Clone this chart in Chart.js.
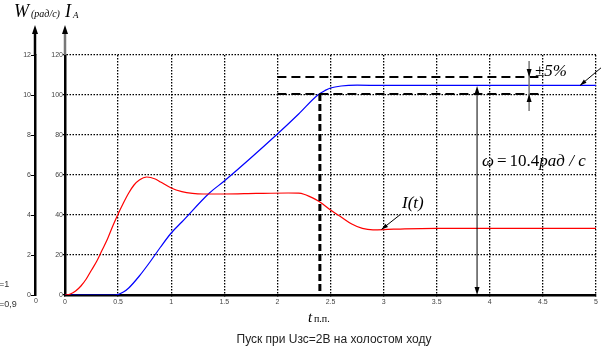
<!DOCTYPE html>
<html>
<head>
<meta charset="utf-8">
<script src="https://cdn.jsdelivr.net/npm/chart.js@4.4.0/dist/chart.umd.min.js"></script>
<style>
  html, body { margin: 0; padding: 0; background: #fff; }
  #wrap { width: 601px; height: 353px; }
</style>
</head>
<body>
<div id="wrap"><canvas id="chart"></canvas></div>
<script>
// ток I(t), А
const currentT    = [0, 0.05, 0.1, 0.15, 0.2, 0.25, 0.3, 0.35, 0.4, 0.45, 0.5, 0.55, 0.6, 0.65, 0.7, 0.77, 0.85, 0.9, 1.0, 1.1, 1.2, 1.3, 1.5, 1.8, 2.1, 2.2, 2.25, 2.3, 2.4, 2.5, 2.6, 2.7, 2.8, 2.9, 3.0, 3.2, 3.5, 4.0, 5.0];
const currentVals = [0, 0.5, 2, 4.5, 8, 12.5, 17, 22.5, 28, 34.5, 40.5, 46, 51, 55, 57.5, 59, 58, 56.5, 53.5, 51.7, 50.8, 50.5, 50.5, 50.8, 51, 50.9, 50.4, 49.3, 46.5, 42.5, 39, 35.5, 33.3, 32.6, 32.7, 33.1, 33.3, 33.3, 33.3];

// скорость W (x10), рад/с
const speedT    = [0, 0.47, 0.55, 0.6, 0.7, 0.8, 0.9, 1.0, 1.1, 1.36, 1.5, 2.0, 2.2, 2.38, 2.45, 2.5, 2.6, 2.75, 3.0, 4.0, 5.0];
const speedVals = [0, 0, 1.5, 3.5, 9.5, 16.5, 24, 31, 36.5, 51, 57, 80.5, 90.5, 100, 102.3, 103.5, 104.5, 104.9, 104.8, 104.8, 104.8];

// оси
const xTicks = [0, 0.5, 1, 1.5, 2, 2.5, 3, 3.5, 4, 4.5, 5];
const iTicks = [0, 20, 40, 60, 80, 100, 120];
const wTicks = [0, 2, 4, 6, 8, 10, 12];

// зона ±5% и момент выхода на режим
const tolUpper = 109;
const tolLower = 100.5;
const tSettle = 2.4;
const tMark = 3.88;
const tTol = 4.37;

const tickFont = { family: 'Liberation Sans', size: 7 };
const plain = v => String(v);

function arrowHead(ctx, x, y, dir, w, h) {
    // dir: 1 = вниз, -1 = вверх
    ctx.beginPath();
    ctx.moveTo(x, y);
    ctx.lineTo(x - w / 2, y - dir * h);
    ctx.lineTo(x + w / 2, y - dir * h);
    ctx.closePath();
    ctx.fill();
}

function pointer(ctx, x1, y1, x2, y2) {
    ctx.beginPath();
    ctx.moveTo(x1, y1);
    ctx.lineTo(x2, y2);
    ctx.stroke();
    const a = Math.atan2(y2 - y1, x2 - x1);
    ctx.beginPath();
    ctx.moveTo(x2, y2);
    ctx.lineTo(x2 - 7 * Math.cos(a - 0.3), y2 - 7 * Math.sin(a - 0.3));
    ctx.lineTo(x2 - 7 * Math.cos(a + 0.3), y2 - 7 * Math.sin(a + 0.3));
    ctx.closePath();
    ctx.fill();
}

const overlay = {
    id: 'overlay',
    afterDraw(chart) {
        const { ctx, chartArea } = chart;
        const x = chart.scales.x, y = chart.scales.y, yW = chart.scales.yW;
        const px = v => x.getPixelForValue(v);
        const py = v => y.getPixelForValue(v);
        ctx.save();

        // стрелки осей
        const wx = yW.right, ix = chartArea.left;
        ctx.strokeStyle = '#000';
        ctx.lineWidth = 2.5;
        ctx.beginPath(); ctx.moveTo(wx, chartArea.top); ctx.lineTo(wx, 32); ctx.stroke();
        ctx.strokeStyle = '#777';
        ctx.beginPath(); ctx.moveTo(ix, chartArea.top); ctx.lineTo(ix, 32); ctx.stroke();
        ctx.fillStyle = '#000';
        arrowHead(ctx, wx, 25, -1, 6, 9);
        arrowHead(ctx, ix, 25, -1, 6, 9);

        // пунктир ±5%
        ctx.strokeStyle = '#000';
        ctx.lineWidth = 2;
        ctx.setLineDash([9, 5]);
        ctx.beginPath();
        ctx.moveTo(px(2), py(tolUpper)); ctx.lineTo(px(4.46), py(tolUpper));
        ctx.moveTo(px(2), py(tolLower)); ctx.lineTo(px(4.46), py(tolLower));
        ctx.stroke();
        ctx.lineWidth = 3;
        ctx.setLineDash([7, 3]);
        ctx.beginPath();
        ctx.moveTo(px(tSettle), py(tolLower)); ctx.lineTo(px(tSettle), py(0));
        ctx.stroke();
        ctx.setLineDash([]);

        // стрелка ω
        ctx.lineWidth = 1;
        ctx.beginPath();
        ctx.moveTo(px(tMark), py(104) + 6); ctx.lineTo(px(tMark), py(0) - 6);
        ctx.stroke();
        arrowHead(ctx, px(tMark), py(104.5), -1, 5, 8);
        arrowHead(ctx, px(tMark), py(0), 1, 5, 8);

        // метка ±5%
        ctx.strokeStyle = '#777';
        ctx.lineWidth = 1.5;
        ctx.beginPath();
        ctx.moveTo(px(tTol), py(tolUpper) - 16); ctx.lineTo(px(tTol), py(tolLower) + 17);
        ctx.stroke();
        ctx.fillStyle = '#000';
        arrowHead(ctx, px(tTol), py(tolUpper), 1, 5, 8);
        arrowHead(ctx, px(tTol), py(tolLower), -1, 5, 8);

        // указатели
        ctx.strokeStyle = '#000';
        ctx.lineWidth = 1;
        pointer(ctx, 602, 67, px(4.85), py(104.8));
        pointer(ctx, 401, 214, px(2.98), py(32.8));

        // подписи
        ctx.fillStyle = '#000';
        ctx.textBaseline = 'alphabetic';
        ctx.textAlign = 'left';
        ctx.font = 'italic 18px "Liberation Serif"';
        ctx.fillText('W', 14, 17);
        ctx.font = 'italic 10px "Liberation Serif"';
        ctx.fillText('(рад/с)', 31, 17);
        ctx.font = 'italic 18px "Liberation Serif"';
        ctx.fillText('I', 65, 17);
        ctx.font = 'italic 9px "Liberation Serif"';
        ctx.fillText('A', 73, 18);

        ctx.font = 'italic 17px "Liberation Serif"';
        ctx.fillText('±5%', 535, 76);
        ctx.fillText('I(t)', 402, 208);

        let tx = 482;
        ctx.font = 'italic 17px "Liberation Serif"';
        ctx.fillText('ω', tx, 166); tx += ctx.measureText('ω').width + 3;
        ctx.font = '17px "Liberation Serif"';
        ctx.fillText('=', tx, 166); tx += ctx.measureText('=').width + 3;
        ctx.fillText('10.4', tx, 166); tx += ctx.measureText('10.4').width;
        ctx.font = 'italic 17px "Liberation Serif"';
        ctx.fillText('рад / c', tx, 166);

        ctx.font = 'italic 15px "Liberation Serif"';
        ctx.fillText('t', 308, 322);
        ctx.font = '10px "Liberation Serif"';
        ctx.fillText('п.п.', 314, 322);

        ctx.font = '12px "Liberation Sans"';
        ctx.textAlign = 'center';
        ctx.fillStyle = '#222';
        ctx.fillText('Пуск при Uзс=2В на холостом ходу', 334, 343);

        ctx.font = '7px "Liberation Sans"';
        ctx.fillStyle = '#444';
        ctx.fillText('0', wx + 1, 303);
        ctx.textAlign = 'left';
        ctx.font = '9px "Liberation Sans"';
        ctx.fillStyle = '#333';
        ctx.fillText('=1', -1, 287);
        ctx.fillText('=0,9', -1, 307);

        ctx.restore();
    }
};

new Chart(document.getElementById('chart').getContext('2d'), {
    type: 'line',
    data: {
        datasets: [{
            label: 'I(t)',
            data: currentT.map((t, i) => ({ x: t, y: currentVals[i] })),
            borderColor: '#ff0000',
            borderWidth: 1.2,
            pointRadius: 0,
            cubicInterpolationMode: 'monotone'
        }, {
            label: 'W(t)',
            data: speedT.map((t, i) => ({ x: t, y: speedVals[i] })),
            borderColor: '#0000ff',
            borderWidth: 1.2,
            pointRadius: 0,
            cubicInterpolationMode: 'monotone'
        }]
    },
    plugins: [overlay],
    options: {
        responsive: true,
        maintainAspectRatio: false,
        animation: false,
        layout: { padding: { left: 5, right: 5, top: 55, bottom: 0 } },
        plugins: { legend: { display: false }, tooltip: { enabled: false } },
        scales: {
            x: {
                type: 'linear',
                min: 0,
                max: 5,
                afterFit: s => { s.height = 58; },
                afterBuildTicks: s => { s.ticks = xTicks.map(v => ({ value: v })); },
                ticks: { font: tickFont, color: '#444', padding: 1, maxRotation: 0, callback: plain },
                grid: { color: '#000', lineWidth: 1.3, tickLength: 2 },
                border: { color: '#000', width: 2.5, dash: [1.5, 1.5] }
            },
            y: {
                type: 'linear',
                position: 'left',
                weight: 0,
                min: 0,
                max: 120,
                afterFit: s => { s.width = 30; },
                afterBuildTicks: s => { s.ticks = iTicks.map(v => ({ value: v })); },
                ticks: { font: tickFont, color: '#444', padding: 0, callback: plain },
                grid: { color: '#000', lineWidth: 1.3, tickLength: 2 },
                border: { color: '#000', width: 2.5, dash: [1.5, 1.5] }
            },
            yW: {
                type: 'linear',
                position: 'left',
                weight: 1,
                min: 0,
                max: 12,
                afterFit: s => { s.width = 30; },
                afterBuildTicks: s => { s.ticks = wTicks.map(v => ({ value: v })); },
                ticks: { font: tickFont, color: '#444', padding: 0, callback: plain },
                grid: { drawOnChartArea: false, color: '#000', tickLength: 4 },
                border: { color: '#000', width: 2.5 }
            }
        }
    }
});
</script>
</body>
</html>
